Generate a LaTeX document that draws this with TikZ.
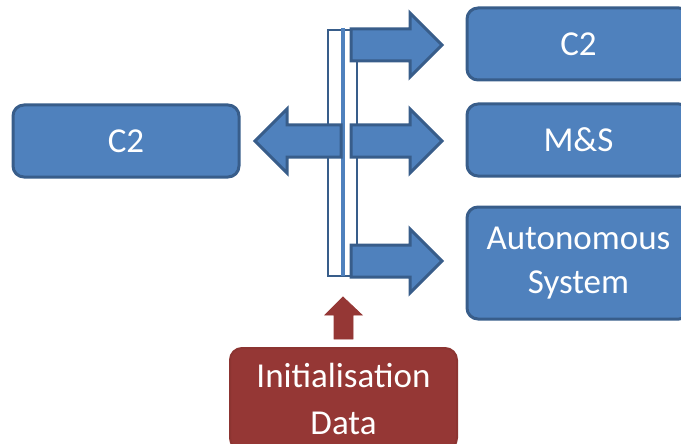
\documentclass[tikz,border=0pt]{standalone}
\usepackage{fontspec}
\setmainfont{Carlito}
\definecolor{boxblue}{HTML}{4F81BD}
\definecolor{edgeblue}{HTML}{385D8A}
\definecolor{boxred}{HTML}{953735}
\definecolor{edgered}{HTML}{8C3431}
\begin{document}
\begin{tikzpicture}[x=1pt,y=-1pt,
  bluebox/.style={draw=edgeblue,fill=boxblue,line width=3pt,rounded corners=11pt,
    text=white,font=\fontsize{35}{44}\selectfont,align=center,inner sep=0pt},
  redbox/.style={draw=edgered,fill=boxred,line width=2pt,rounded corners=12pt,
    text=white,font=\fontsize{35}{47}\selectfont,align=center,inner sep=0pt},
  blockarrow/.style={draw=edgeblue,fill=boxblue,line width=3pt,line join=miter},
  redarrow/.style={fill=boxred,draw=boxred,line width=0.8pt}]
\useasboundingbox (0,0) rectangle (681,444);
% boxes
\node[bluebox,minimum width=226pt,minimum height=72pt] (c2left) at (126,141) {C2};
\node[bluebox,minimum width=223pt,minimum height=72pt] (c2right) at (578.5,44) {C2};
\node[bluebox,minimum width=223pt,minimum height=72pt] (ms) at (578.5,140) {M\&S};
\node[bluebox,minimum width=223pt,minimum height=112pt] (auto) at (578.5,263) {Autonomous\\System};
\node[redbox,minimum width=227pt,minimum height=102pt] (init) at (343.5,399) {Initialisation\\Data};
% bus
\draw[edgeblue,line width=2.6pt] (328,30) rectangle (357,276);
\draw[boxblue,line width=3.5pt] (343,28) -- (343,276);
% arrows to the right
\draw[blockarrow] (351,29) -- (410,29) -- (410,13) -- (442,45) -- (410,77) -- (410,61) -- (351,61) -- cycle;
\draw[blockarrow] (351,125) -- (410,125) -- (410,109) -- (442,141) -- (410,173) -- (410,157) -- (351,157) -- cycle;
\draw[blockarrow] (351,245) -- (410,245) -- (410,229) -- (442,261) -- (410,293) -- (410,277) -- (351,277) -- cycle;
% arrow to the left
\draw[blockarrow] (341,125) -- (287,125) -- (287,109) -- (255,141) -- (287,173) -- (287,157) -- (341,157) -- cycle;
% red arrow
\draw[redarrow] (334,339) -- (334,315) -- (325,315) -- (343,297) -- (362,315) -- (353,315) -- (353,339) -- cycle;
\end{tikzpicture}
\end{document}
